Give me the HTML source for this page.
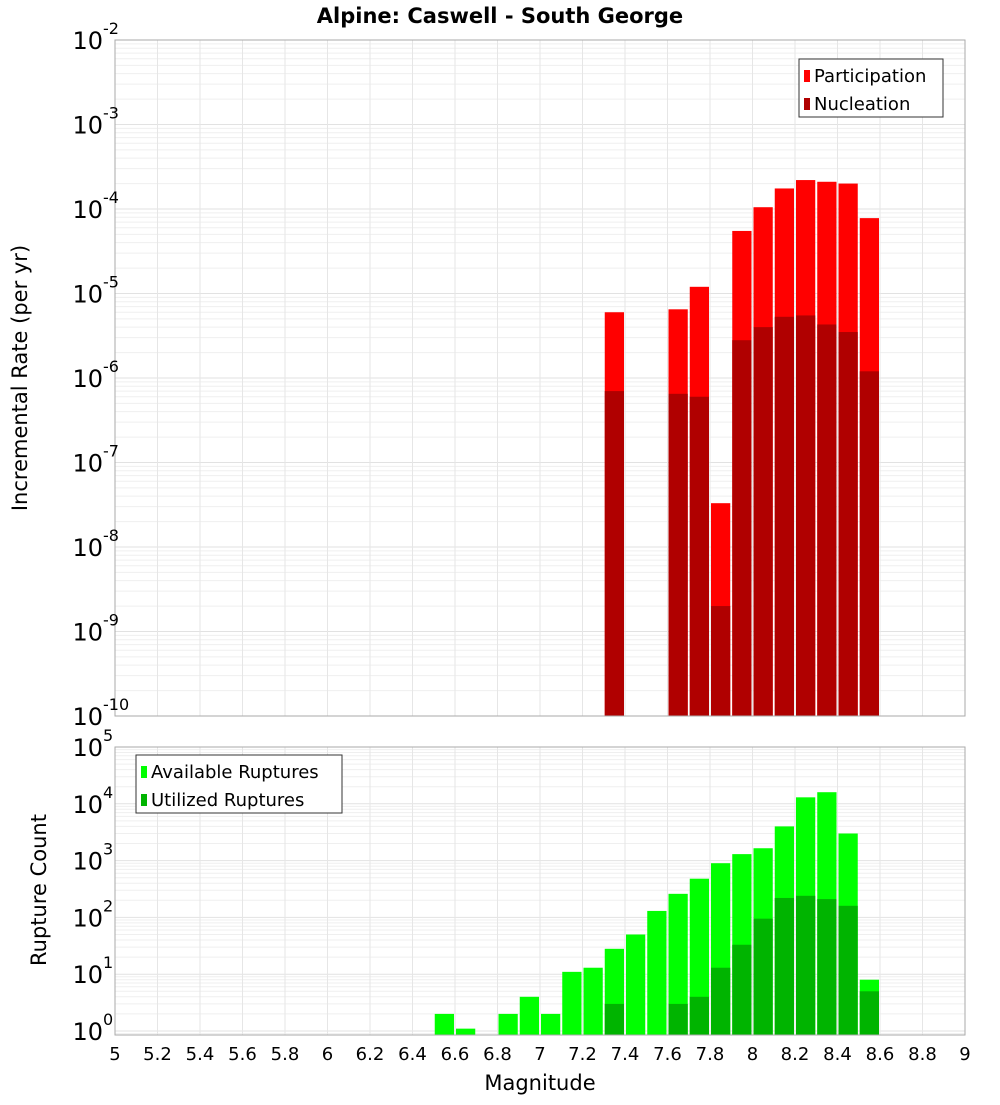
<!DOCTYPE html>
<html><head><meta charset="utf-8"><style>
body{margin:0;background:#fff;font-family:"Liberation Sans","DejaVu Sans",sans-serif}
svg text{font-family:"DejaVu Sans","Liberation Sans",sans-serif}
</style></head><body>
<svg id="c" width="1000" height="1100" xmlns="http://www.w3.org/2000/svg">
<text x="500" y="23" text-anchor="middle" font-size="21" font-weight="bold">Alpine: Caswell - South George</text>
<text transform="translate(27,378) rotate(-90)" text-anchor="middle" font-size="21">Incremental Rate (per yr)</text>
<text transform="translate(46,890) rotate(-90)" text-anchor="middle" font-size="21">Rupture Count</text>
<text x="540" y="1090" text-anchor="middle" font-size="21">Magnitude</text>
<g id="g"></g>
</svg>
<script>
const bins1=[7.3,7.6,7.7,7.8,7.9,8.0,8.1,8.2,8.3,8.4,8.5];
const participation=[6e-6,6.5e-6,1.2e-5,3.3e-8,5.5e-5,1.05e-4,1.75e-4,2.2e-4,2.1e-4,2e-4,7.8e-5];
const nucleation=[7e-7,6.5e-7,6e-7,2e-9,2.8e-6,4e-6,5.3e-6,5.5e-6,4.3e-6,3.5e-6,1.2e-6];
const bins2=[6.5,6.6,6.8,6.9,7.0,7.1,7.2,7.3,7.4,7.5,7.6,7.7,7.8,7.9,8.0,8.1,8.2,8.3,8.4,8.5];
const available=[2,1.1,2,4,2,11,13,28,50,130,260,480,900,1300,1650,4000,13000,16000,3000,8];
const utilized=[0,0,0,0,0,0,0,3,0,0,3,4,13,33,95,220,240,210,160,5];
const xTicks=[5,5.2,5.4,5.6,5.8,6,6.2,6.4,6.6,6.8,7,7.2,7.4,7.6,7.8,8,8.2,8.4,8.6,8.8,9];
const topExps=[-2,-3,-4,-5,-6,-7,-8,-9,-10];
const botExps=[5,4,3,2,1,0];
const NS='http://www.w3.org/2000/svg';
const g=document.getElementById('g');
function el(t,a,p){const e=document.createElementNS(NS,t);for(const k in a)e.setAttribute(k,a[k]);(p||g).appendChild(e);return e;}
const L=115,R=965;
const X=v=>L+(v-5)*(R-L)/4;
const T0=40,T1=716;
const Yt=v=>T0+(-2-Math.log10(v))*(T1-T0)/8;
const B0=747,B1=1035,bpd=56.8;
const Yb=v=>Math.min(B1,B0+(5-Math.log10(v))*bpd);
function grid(y0,y1,yf,eMin,eMax){
  for(let e=eMin;e<eMax;e++)for(let m=1;m<10;m++){const y=yf(m*Math.pow(10,e));if(y>=y0&&y<=y1){const l=el('line',{x1:L,x2:R,y1:y,y2:y,stroke:m==1?'#e2e2e2':'#efefef','stroke-width':1});}}
  xTicks.forEach(t=>{const l=el('line',{x1:X(t),x2:X(t),y1:y0,y2:y1,stroke:'#e6e6e6'});});
}
grid(T0,T1,Yt,-10,-2);
grid(B0,B1,Yb,-1,5);
function bar(x,v,y,yb,col,name){const r=el('rect',{x:X(x)+1,y:y(v),width:X(x+0.1)-X(x)-2,height:yb-y(v),fill:col});}
bins1.forEach((b,i)=>{bar(b,participation[i],Yt,T1,'#ff0000','participation-bar');bar(b,nucleation[i],Yt,T1,'#b00000','nucleation-bar');});
bins2.forEach((b,i)=>{bar(b,available[i],Yb,B1,'#00ff00','available-bar');if(utilized[i]>0)bar(b,utilized[i],Yb,B1,'#00b400','utilized-bar');});
[[T0,T1],[B0,B1]].forEach(([a,b])=>{const r=el('rect',{x:L,y:a,width:R-L,height:b-a,fill:'none',stroke:'#aaa'});});
function expLabel(y,e,name){const t=el('text',{x:103,y:y+9,'text-anchor':'end','font-size':24});t.textContent='10';const s=el('text',{x:103,y:y-6,'font-size':16});s.textContent=String(e);}
topExps.forEach(e=>expLabel(Yt(Math.pow(10,e)),e,'top-y-tick'));
botExps.forEach(e=>expLabel(B0+(5-e)*bpd,e,'bottom-y-tick'));
xTicks.forEach(t=>{const tx=el('text',{x:X(t),y:1060,'text-anchor':'middle','font-size':18});tx.textContent=String(t);});
function legend(x,y,w,items,name){const lg=el('g',{});el('rect',{x:x,y:y,width:w,height:58,fill:'#fff',stroke:'#333'},lg);items.forEach(([c,t],i)=>{el('rect',{x:x+5,y:y+11+i*28,width:6,height:12,fill:c},lg);const tx=el('text',{x:x+15,y:y+23+i*28,'font-size':18},lg);tx.textContent=t;});}
legend(799,59,144,[['#ff0000','Participation'],['#b00000','Nucleation']],'top-legend');
legend(136,755,206,[['#00ff00','Available Ruptures'],['#00b400','Utilized Ruptures']],'bottom-legend');
</script>
</body></html>
